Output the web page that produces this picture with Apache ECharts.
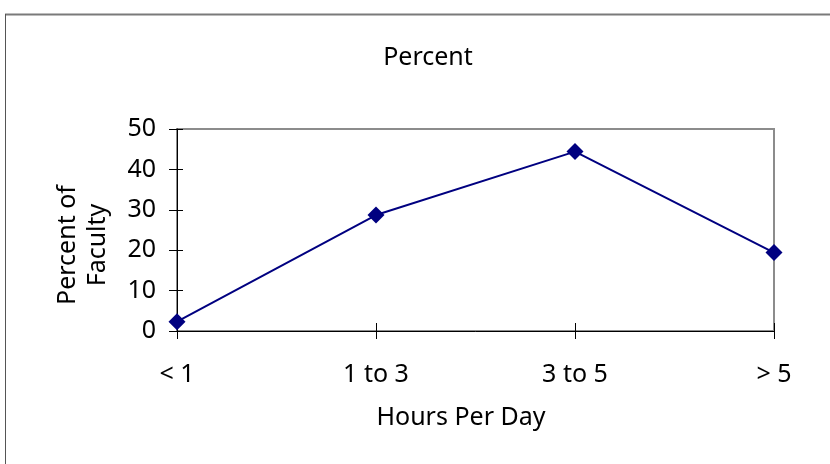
<!DOCTYPE html>
<html>
<head>
<meta charset="utf-8">
<script src="https://cdn.jsdelivr.net/npm/echarts@6/dist/echarts.min.js"></script>
<style>
  html, body { margin: 0; padding: 0; background: #fff; }
  #chart { width: 830px; height: 464px; }
</style>
</head>
<body>
<div id="chart"></div>
<script>
// Hours spent per day vs. share of faculty
const categories = ['< 1', '1 to 3', '3 to 5', '> 5'];
const percentValues = [2.3, 28.7, 44.4, 19.4];
const yMin = 0, yMax = 50, yStep = 10;

const FONT = 'Noto Sans';
const FS = 25;

const chart = echarts.init(document.getElementById('chart'), null, { renderer: 'canvas' });

// Two copies of each axis: the first carries labels and outward ticks, the second adds the inward half of each tick
function xAxisBase(extra) {
  return Object.assign({
    type: 'category',
    data: categories,
    boundaryGap: false,
    position: 'bottom',
    splitLine: { show: false }
  }, extra);
}
function yAxisBase(extra) {
  return Object.assign({
    type: 'value',
    min: yMin,
    max: yMax,
    interval: yStep,
    position: 'left',
    splitLine: { show: false }
  }, extra);
}

chart.setOption({
  animation: false,
  backgroundColor: '#ffffff',
  grid: {
    left: 177, right: 56, top: 129, bottom: 133,
    show: true,
    borderColor: '#8c8c8c',
    borderWidth: 2,
    backgroundColor: 'transparent'
  },
  xAxis: [
    xAxisBase({
      axisLine: { show: true, lineStyle: { color: '#000', width: 1 } },
      axisTick: { show: true, inside: false, length: 8, lineStyle: { color: '#000' } },
      axisLabel: { margin: 31, color: '#000', fontFamily: FONT, fontSize: FS }
    }),
    xAxisBase({
      axisLine: { show: false },
      axisTick: { show: true, inside: true, length: 8, lineStyle: { color: '#000' } },
      axisLabel: { show: false }
    })
  ],
  yAxis: [
    yAxisBase({
      axisLine: { show: true, lineStyle: { color: '#000', width: 1 } },
      axisTick: { show: true, inside: false, length: 8, lineStyle: { color: '#000' } },
      axisLabel: { margin: 21, color: '#000', fontFamily: FONT, fontSize: FS }
    }),
    yAxisBase({
      axisLine: { show: false },
      axisTick: { show: true, inside: true, length: 6, lineStyle: { color: '#000' } },
      axisLabel: { show: false }
    })
  ],
  series: [{
    type: 'line',
    xAxisIndex: 0,
    yAxisIndex: 0,
    data: percentValues,
    symbol: 'diamond',
    symbolSize: 17,
    lineStyle: { color: '#000080', width: 2 },
    itemStyle: { color: '#000080' }
  }],
  graphic: [
    // chart-area frame
    { type: 'line', shape: { x1: 5, y1: 14.5, x2: 830, y2: 14.5 }, style: { stroke: '#7a7a7a', lineWidth: 2 } },
    { type: 'line', shape: { x1: 5.5, y1: 14, x2: 5.5, y2: 464 }, style: { stroke: '#555', lineWidth: 1 } },
    { type: 'text', x: 428, y: 58, style: { text: 'Percent', font: FS + 'px "' + FONT + '"', fill: '#000', textAlign: 'center', textVerticalAlign: 'middle' } },
    { type: 'text', x: 461, y: 418, style: { text: 'Hours Per Day', font: FS + 'px "' + FONT + '"', fill: '#000', textAlign: 'center', textVerticalAlign: 'middle' } },
    { type: 'text', x: 83, y: 245, rotation: Math.PI / 2, style: { text: 'Percent of\nFaculty', font: FS + 'px "' + FONT + '"', fill: '#000', textAlign: 'center', textVerticalAlign: 'middle', lineHeight: 30 } }
  ]
});
</script>
</body>
</html>
